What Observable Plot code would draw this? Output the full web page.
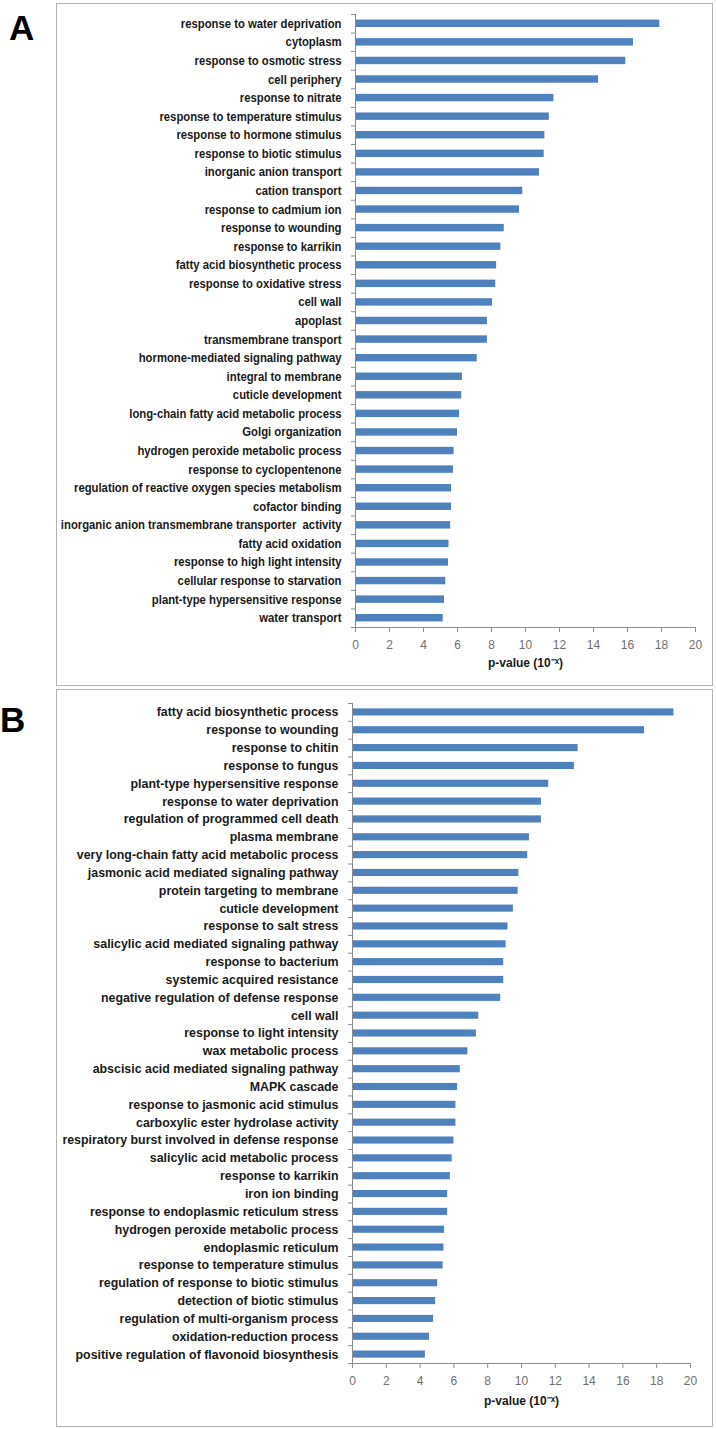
<!DOCTYPE html>
<html><head><meta charset="utf-8">
<script src="https://cdn.jsdelivr.net/npm/d3@7"></script>
<script src="https://cdn.jsdelivr.net/npm/@observablehq/plot@0.6"></script>
<style>
html,body{margin:0;padding:0;background:#fff}
body{width:716px;height:1429px;position:relative;overflow:hidden;font-family:"Liberation Sans",Arial,sans-serif}
.box{position:absolute;border:1px solid #b3b3b3;box-sizing:border-box}
.letter{position:absolute;font:bold 35px "Liberation Sans",Arial,sans-serif;line-height:1;color:#000}
.chart{position:absolute}
</style></head><body>
<div class="box" style="left:56px;top:3px;width:657px;height:683px"></div>
<div class="box" style="left:56px;top:689px;width:657px;height:738px"></div>
<div class="letter" style="left:9px;top:10px">A</div>
<div class="letter" style="left:0px;top:702px">B</div>
<div class="chart" id="pa" style="left:56px;top:3px"></div>
<div class="chart" id="pb" style="left:56px;top:689px"></div>
<script>
const termsA = [
  "response to water deprivation","cytoplasm","response to osmotic stress","cell periphery",
  "response to nitrate","response to temperature stimulus","response to hormone stimulus",
  "response to biotic stimulus","inorganic anion transport","cation transport",
  "response to cadmium ion","response to wounding","response to karrikin",
  "fatty acid biosynthetic process","response to oxidative stress","cell wall","apoplast",
  "transmembrane transport","hormone-mediated signaling pathway","integral to membrane",
  "cuticle development","long-chain fatty acid metabolic process","Golgi organization",
  "hydrogen peroxide metabolic process","response to cyclopentenone",
  "regulation of reactive oxygen species metabolism","cofactor binding",
  "inorganic anion transmembrane transporter  activity","fatty acid oxidation",
  "response to high light intensity","cellular response to starvation",
  "plant-type hypersensitive response","water transport"
];
const valuesA = [
  17.9, 16.35, 15.9, 14.3, 11.67, 11.4, 11.14, 11.1, 10.82, 9.84, 9.65, 8.75, 8.55,
  8.3, 8.25, 8.06, 7.76, 7.76, 7.16, 6.29, 6.25, 6.12, 6.0, 5.8, 5.76, 5.65, 5.65,
  5.6, 5.5, 5.47, 5.31, 5.24, 5.16
];
const termsB = [
  "fatty acid biosynthetic process","response to wounding","response to chitin",
  "response to fungus","plant-type hypersensitive response","response to water deprivation",
  "regulation of programmed cell death","plasma membrane",
  "very long-chain fatty acid metabolic process","jasmonic acid mediated signaling pathway",
  "protein targeting to membrane","cuticle development","response to salt stress",
  "salicylic acid mediated signaling pathway","response to bacterium",
  "systemic acquired resistance","negative regulation of defense response","cell wall",
  "response to light intensity","wax metabolic process","abscisic acid mediated signaling pathway",
  "MAPK cascade","response to jasmonic acid stimulus","carboxylic ester hydrolase activity",
  "respiratory burst involved in defense response","salicylic acid metabolic process",
  "response to karrikin","iron ion binding","response to endoplasmic reticulum stress",
  "hydrogen peroxide metabolic process","endoplasmic reticulum",
  "response to temperature stimulus","regulation of response to biotic stimulus",
  "detection of biotic stimulus","regulation of multi-organism process",
  "oxidation-reduction process","positive regulation of flavonoid biosynthesis"
];
const valuesB = [
  19.02, 17.28, 13.35, 13.13, 11.61, 11.18, 11.18, 10.47, 10.37, 9.84, 9.8, 9.52, 9.2,
  9.09, 8.95, 8.95, 8.77, 7.47, 7.33, 6.83, 6.38, 6.22, 6.12, 6.12, 6.0, 5.9, 5.79,
  5.63, 5.63, 5.45, 5.41, 5.36, 5.04, 4.92, 4.8, 4.56, 4.31
];
const xTicks = [0, 2, 4, 6, 8, 10, 12, 14, 16, 18, 20];
const axisTitle = "p-value (10\u207B\u02E3)";

function panel(terms, values, cfg) {
  const data = terms.map((t, i) => ({term: t, value: values[i]}));
  const n = terms.length;
  const step = (cfg.height - cfg.marginTop - cfg.marginBottom) / n;
  const inset = step * 0.3;
  const axisColor = "#8c8c8c";
  const svg = Plot.plot({
    width: 656,
    height: cfg.height,
    marginLeft: cfg.marginLeft,
    marginRight: cfg.marginRight,
    marginTop: cfg.marginTop,
    marginBottom: cfg.marginBottom,
    style: {background: "transparent", overflow: "visible"},
    x: {domain: [0, 20], label: null},
    y: {domain: terms, padding: 0, round: false, label: null},
    marks: [
      Plot.barX(data, {x: "value", y: "term", fill: "#4f81bd", insetTop: inset, insetBottom: inset}),
      Plot.ruleX([0], {stroke: axisColor}),
      Plot.frame({anchor: "bottom", stroke: axisColor}),
      Plot.axisY({tickSize: 4, tickFormat: () => "", stroke: axisColor, dy: -step / 2}),
      Plot.axisY([terms[n - 1]], {tickSize: 4, tickFormat: () => "", stroke: axisColor, dy: step / 2}),
      Plot.axisY({tickSize: 0, tickPadding: 14, fontFamily: "Liberation Sans, Arial, sans-serif",
                  fontSize: cfg.labelSize, fontWeight: "bold", color: "#1a1a1a", label: null}),
      Plot.axisX({ticks: xTicks, tickSize: 5, tickPadding: 8, stroke: axisColor, color: "#6e6e6e",
                  fontSize: 12, fontFamily: "Liberation Sans, Arial, sans-serif", label: null}),
      Plot.text([axisTitle], {frameAnchor: "bottom", dy: cfg.titleOffset, fontWeight: "bold",
                  fontSize: 12, fontFamily: "Liberation Sans, Arial, sans-serif", fill: "#1a1a1a"})
    ]
  });
  if (cfg.labelScale !== 1) {
    svg.querySelectorAll('g[aria-label="y-axis tick label"] text').forEach(el => {
      const t = el.getAttribute("transform");
      if (t) el.setAttribute("transform", t + ` scale(${cfg.labelScale},1)`);
      else {
        const x = +(el.getAttribute("x") || 0);
        el.setAttribute("transform", `translate(${x},0) scale(${cfg.labelScale},1) translate(${-x},0)`);
      }
    });
  }
  return svg;
}

document.getElementById("pa").append(panel(termsA, valuesA, {
  height: 683, marginLeft: 299, marginRight: 17, marginTop: 11, marginBottom: 59,
  labelSize: 12.5, labelScale: 0.905, titleOffset: 39
}));
document.getElementById("pb").append(panel(termsB, valuesB, {
  height: 737, marginLeft: 296, marginRight: 22, marginTop: 14, marginBottom: 63,
  labelSize: 12.4, labelScale: 1, titleOffset: 41
}));
</script>
</body></html>
